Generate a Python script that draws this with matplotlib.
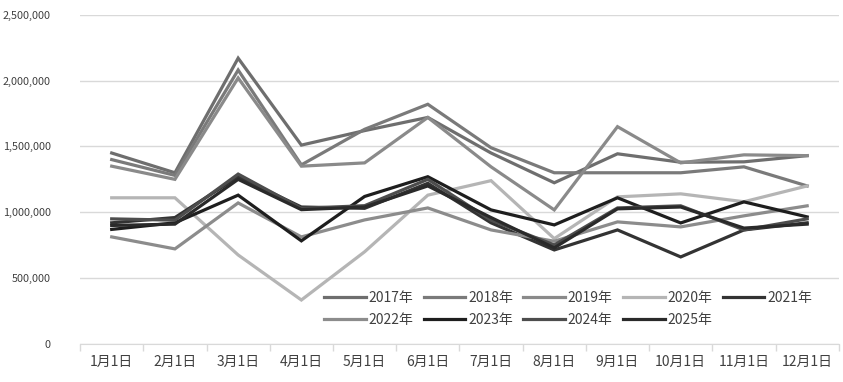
import matplotlib
matplotlib.use("Agg")
import matplotlib.pyplot as plt
from matplotlib.ticker import FuncFormatter, MultipleLocator, FixedLocator

plt.rcParams['font.family'] = ['Noto Sans CJK SC', 'DejaVu Sans']

months = ["1月1日", "2月1日", "3月1日", "4月1日", "5月1日", "6月1日",
          "7月1日", "8月1日", "9月1日", "10月1日", "11月1日", "12月1日"]

y2017 = [1450000, 1300000, 2170000, 1510000, 1620000, 1720000,
         1450000, 1224000, 1444000, 1380000, 1383000, 1430000]
y2018 = [1400000, 1280000, 2080000, 1360000, 1630000, 1820000,
         1490000, 1300000, 1300000, 1300000, 1345000, 1200000]
y2019 = [1350000, 1250000, 2020000, 1350000, 1375000, 1720000,
         1345000, 1018000, 1650000, 1375000, 1436000, 1430000]
y2020 = [1110000, 1110000, 676000, 334000, 700000, 1130000,
         1240000, 800000, 1117000, 1140000, 1080000, 1200000]
y2021 = [920000, 960000, 1270000, 1040000, 1030000, 1220000,
         920000, 714000, 866000, 661000, 866000, 920000]
y2022 = [813000, 722000, 1071000, 813000, 942000, 1033000,
         866000, 780000, 927000, 889000, 973000, 1049000]
y2023 = [870000, 920000, 1130000, 783000, 1120000, 1270000,
         1018000, 904000, 1110000, 919000, 1079000, 965000]
y2024 = [950000, 940000, 1290000, 1030000, 1050000, 1250000,
         940000, 752000, 1033000, 1049000, 866000, 950000]
y2025 = [900000, 910000, 1250000, 1020000, 1040000, 1200000,
         960000, 730000, 1026000, 1040000, 880000, 910000]

series = [
    ("2017年", y2017, "#6e6e6e"),
    ("2018年", y2018, "#7a7a7a"),
    ("2019年", y2019, "#8a8a8a"),
    ("2020年", y2020, "#b5b5b5"),
    ("2021年", y2021, "#333333"),
    ("2022年", y2022, "#8c8c8c"),
    ("2023年", y2023, "#1e1e1e"),
    ("2024年", y2024, "#4d4d4d"),
    ("2025年", y2025, "#2a2a2a"),
]

fig = plt.figure(figsize=(8.43, 3.82), dpi=100)
ax = fig.add_axes([0.095, 0.0995, 0.9, 0.862])

x = list(range(len(months)))
lines = []
for name, vals, col in series:
    ln, = ax.plot(x, vals, color=col, lw=2.3, label=name, solid_joinstyle="miter")
    lines.append(ln)

ax.set_xlim(-0.5, 11.5)
ax.set_ylim(0, 2500000)
ax.yaxis.set_major_locator(MultipleLocator(500000))
ax.yaxis.set_major_formatter(FuncFormatter(lambda v, p: f"{int(v):,}"))
ax.grid(axis="y", color="#d9d9d9", lw=1)
ax.set_axisbelow(True)

ax.set_xticks(x)
ax.set_xticklabels(months)
ax.xaxis.set_minor_locator(FixedLocator([i - 0.5 for i in range(13)]))
ax.tick_params(axis="x", which="major", length=0, pad=8, labelsize=10, labelcolor="#404040")
ax.tick_params(axis="x", which="minor", length=5, color="#d9d9d9", width=1)
ax.tick_params(axis="y", length=0, pad=21, labelsize=7.8, labelcolor="#404040")

for s in ["top", "right", "left"]:
    ax.spines[s].set_visible(False)
ax.spines["bottom"].set_color("#d9d9d9")

# legend filled row by row (matplotlib fills columns first)
order = [0, 5, 1, 6, 2, 7, 3, 8, 4]
ax.legend([lines[i] for i in order], [series[i][0] for i in order],
          ncol=5, loc="lower left", bbox_to_anchor=(0.314, 0.035), frameon=False,
          fontsize=10, labelcolor="#404040", handlelength=3.0, handletextpad=0.2,
          columnspacing=0.75, labelspacing=0.55, borderaxespad=0)

fig.savefig("out.png", dpi=100)
